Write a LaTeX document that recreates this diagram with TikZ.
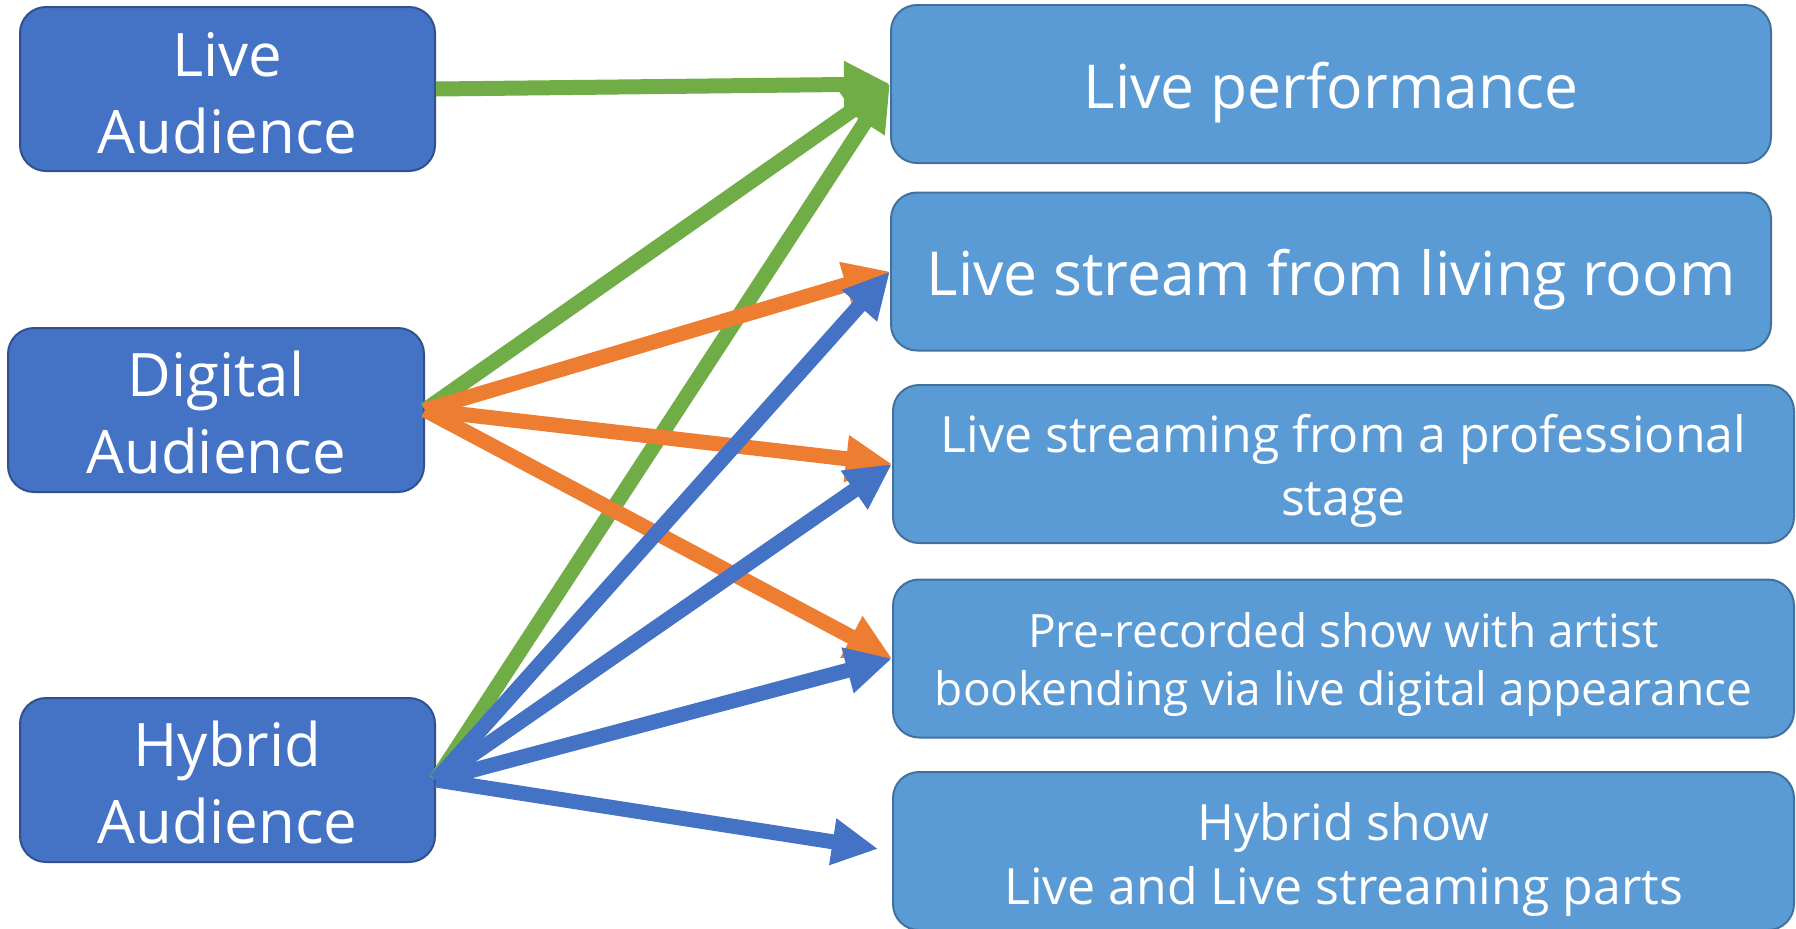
\documentclass[tikz,border=0pt]{standalone}
\usepackage{fontspec}
\setmainfont{Open Sans}
\usetikzlibrary{arrows.meta,positioning}
\definecolor{audfill}{HTML}{4472C4}
\definecolor{audline}{HTML}{2F528F}
\definecolor{shfill}{HTML}{5B9BD5}
\definecolor{shline}{HTML}{41719C}
\definecolor{grn}{HTML}{70AD47}
\definecolor{org}{HTML}{ED7D31}
\definecolor{blu}{HTML}{4472C4}
\tikzset{aud/.style={draw=audline, fill=audfill, rounded corners=13pt, line width=1pt, text=white, align=center, inner sep=0pt, minimum width=207.5pt, minimum height=82pt, text height=63pt, text depth=0pt, font=\fontsize{30pt}{38.5pt}\selectfont}}
\tikzstyle{sh}=[draw=shline, fill=shfill, rounded corners=13pt, line width=1pt, text=white, align=center, inner sep=0pt, minimum width=440pt, minimum height=79pt, text height=24pt, text depth=0pt]
\tikzstyle{conn}=[->, line width=7.5pt]

\begin{document}
\begin{tikzpicture}[x=0.5pt, y=-0.5pt, >={Triangle[length=23pt,width=22pt]}]
\useasboundingbox (0,0) rectangle (1796,928);
% audiences
\node[aud, text height=64pt] (la) at (227.5,89) {Live\\Audience};
\node[aud, minimum width=208pt] (da) at (216,410) {Digital\\Audience};
\node[aud] (ha) at (227.5,780) {Hybrid\\Audience};
% show formats
\node[sh, font=\fontsize{30.3pt}{38.5pt}\selectfont] (perf) at (1331,84) {Live performance};
\node[sh, font=\fontsize{30.3pt}{38.5pt}\selectfont] (room) at (1331,271.5) {Live stream from living room};
\node[sh, minimum width=450.5pt, text height=51pt, font=\fontsize{25pt}{31.5pt}\selectfont] (stage) at (1343.5,464) {Live streaming from a professional\\stage};
\node[sh, minimum width=450.5pt, text height=46.5pt, font=\fontsize{23pt}{29pt}\selectfont] (prerec) at (1343.5,658.5) {Pre-recorded show with artist\\bookending via live digital appearance};
\node[sh, minimum width=450.5pt, text height=53pt, font=\fontsize{25pt}{32pt}\selectfont] (hshow) at (1343.5,851) {Hybrid show\\Live and Live streaming parts};

\path[conn, color=grn]
	(la.east) edge (perf.west)
	(da.east) edge (perf.west)
	(ha.east) edge (perf.west);
\path[conn, color=org]
	(da.east) edge (room.west)
		edge (stage.west)
		edge (prerec.west);
\path[conn, color=blu]
	(ha.east) edge (room.west)
		edge (stage.west)
		edge (prerec.west)
		edge[shorten >=7pt] (hshow.west);
\end{tikzpicture}
\end{document}
